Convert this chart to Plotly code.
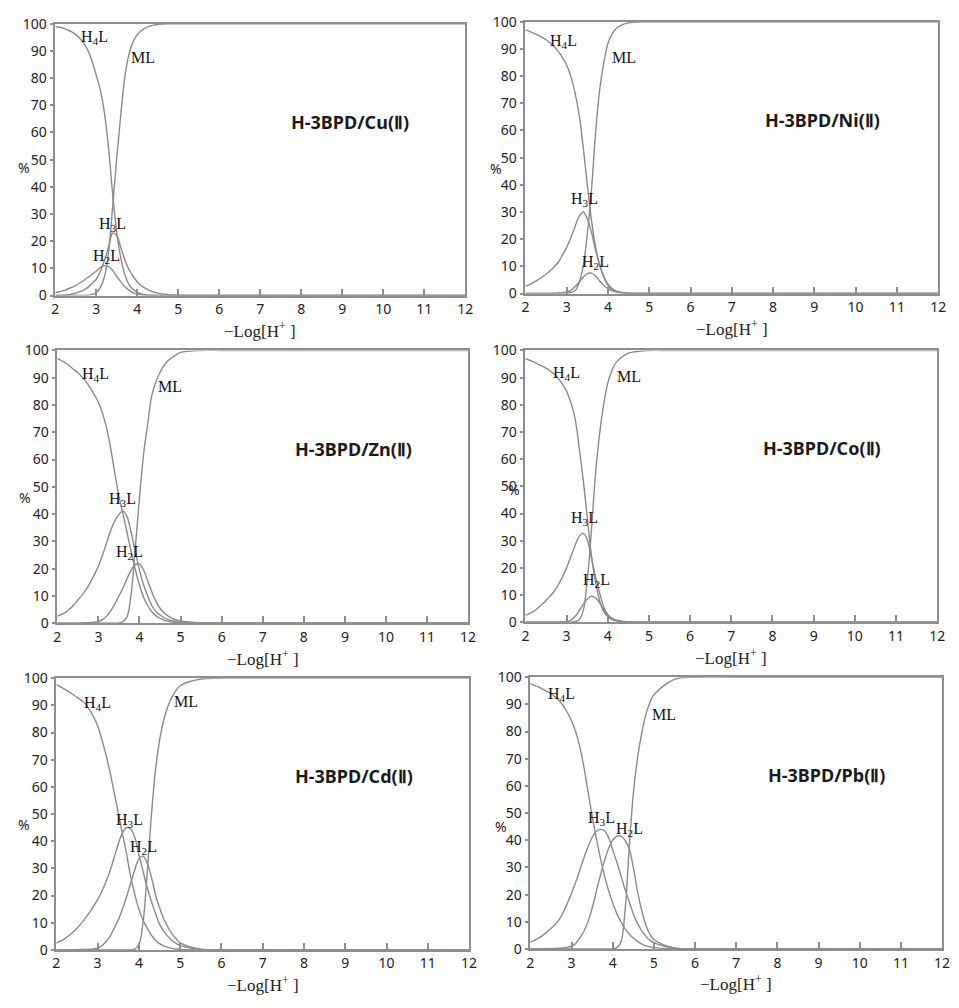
import plotly.graph_objects as go

# -Log[H+] sampling points shared by every panel
ph = [2.0, 2.1, 2.2, 2.3, 2.4, 2.5, 2.6, 2.7, 2.8, 2.9,
      3.0, 3.1, 3.2, 3.3, 3.4, 3.5, 3.6, 3.7, 3.8, 3.9,
      4.0, 4.1, 4.2, 4.3, 4.4, 4.5, 4.6, 4.7, 4.8, 4.9,
      5.0, 5.5, 6.0, 7.0, 12.0]

x_ticks = [2, 3, 4, 5, 6, 7, 8, 9, 10, 11, 12]
y_ticks = [0, 10, 20, 30, 40, 50, 60, 70, 80, 90, 100]

# species distribution (%) — H-3BPD / Cu(II)
cu_h4l = [99, 98.7, 98.3, 97.7, 97, 96, 94.6, 92.7, 90, 86,
          81, 75.5, 67, 54, 37, 23, 13.5, 7.5, 4, 2.2,
          1.2, 0.6, 0.3, 0.15, 0.08, 0.04, 0, 0, 0, 0,
          0, 0, 0, 0, 0]
cu_h3l = [0, 0.05, 0.15, 0.3, 0.55, 0.9, 1.4, 2.1, 3.1, 4.4,
          6, 9, 13, 18, 23, 22, 17.5, 13, 9.5, 7,
          5, 3.6, 2.6, 1.8, 1.3, 0.9, 0.6, 0.45, 0.3, 0.2,
          0.15, 0, 0, 0, 0]
cu_h2l = [1, 1.4, 1.8, 2.4, 3, 3.7, 4.6, 5.6, 6.7, 7.9,
          9, 10.3, 11, 10.6, 9.2, 7, 5, 3.2, 1.9, 1,
          0.5, 0.2, 0.1, 0, 0, 0, 0, 0, 0, 0,
          0, 0, 0, 0, 0]
cu_ml = [0, 0, 0, 0, 0, 0, 0, 0.05, 0.15, 0.4,
         1, 3, 7, 16, 33, 51, 67, 81, 89, 93.5,
         96, 97.5, 98.5, 99.1, 99.5, 99.7, 99.85, 99.95, 100, 100,
         100, 100, 100, 100, 100]

# H-3BPD / Ni(II)
ni_h4l = [97, 96.5, 95.8, 95.1, 94.3, 93.4, 92.2, 90.8, 89, 86.8,
          84, 80, 74, 66, 54, 40, 27, 17, 10.5, 6.3,
          3.5, 1.8, 1.0, 0.5, 0.25, 0.1, 0.05, 0, 0, 0,
          0, 0, 0, 0, 0]
ni_h3l = [2.6, 3.3, 4.1, 5, 6, 7.1, 8.4, 9.9, 11.6, 14.2,
          17, 20.5, 24.5, 28.3, 30, 27.5, 22.5, 16, 10.5, 6,
          3, 1.5, 0.8, 0.4, 0.2, 0.1, 0.05, 0, 0, 0,
          0, 0, 0, 0, 0]
ni_h2l = [0, 0, 0, 0, 0.02, 0.05, 0.08, 0.13, 0.2, 0.35,
          0.6, 1.2, 2.5, 4.2, 6, 7.3, 7.5, 6.5, 4.6, 3,
          1.8, 1, 0.5, 0.25, 0.1, 0.05, 0, 0, 0, 0,
          0, 0, 0, 0, 0]
ni_ml = [0, 0, 0, 0, 0, 0, 0, 0, 0, 0.03,
         0.1, 0.4, 1, 4, 10, 22, 38, 59, 75, 85,
         92, 95.5, 97.5, 98.6, 99.2, 99.6, 99.8, 99.9, 100, 100,
         100, 100, 100, 100, 100]

# H-3BPD / Zn(II)
zn_h4l = [97, 96.3, 95.4, 94.3, 93, 91.8, 90.3, 88.5, 86.3, 83.8,
          81, 77, 71.5, 64, 55, 46.5, 40, 33, 26, 19.5,
          14, 9.5, 6.5, 4.2, 2.8, 1.8, 1.1, 0.7, 0.4, 0.25,
          0.15, 0, 0, 0, 0]
zn_h3l = [2.6, 3.2, 4, 5.2, 6.7, 8.5, 10.3, 12.3, 14.8, 17.8,
          21, 25, 29.5, 34, 37.5, 40, 41.2, 39, 33, 26,
          19.5, 14, 10, 6.5, 4.3, 3, 2, 1.3, 0.9, 0.55,
          0.3, 0, 0, 0, 0]
zn_h2l = [0, 0, 0, 0.02, 0.04, 0.05, 0.1, 0.15, 0.25, 0.4,
          0.6, 1.3, 2.6, 4.5, 7, 10, 13, 16.5, 19.5, 21.5,
          21.7, 19.5, 15.5, 11.5, 8, 5.5, 3.8, 2.6, 1.8, 1.2,
          0.8, 0.1, 0, 0, 0]
zn_ml = [0, 0, 0, 0, 0, 0, 0, 0, 0, 0,
         0, 0, 0, 0, 0, 0.1, 0.6, 2.5, 11, 28,
         46, 62, 73, 83.5, 88.5, 92, 94.5, 96.3, 97.5, 98.5,
         99.3, 100, 100, 100, 100]

# H-3BPD / Co(II)
co_h4l = [97, 96.4, 95.8, 95, 94.3, 93.5, 92.5, 91.3, 89.7, 87.6,
          85, 81, 75.5, 65, 53, 39, 25, 15, 8, 4,
          2, 1, 0.5, 0.25, 0.1, 0.05, 0, 0, 0, 0,
          0, 0, 0, 0, 0]
co_h3l = [2.5, 3.2, 4, 5.2, 6.5, 8, 9.6, 11.4, 13.8, 16.7,
          20, 24, 28, 31.5, 32.8, 30.5, 24, 17, 11, 5.8,
          2.8, 1.3, 0.8, 0.4, 0.2, 0.1, 0, 0, 0, 0,
          0, 0, 0, 0, 0]
co_h2l = [0, 0, 0, 0, 0, 0, 0, 0.02, 0.06, 0.12,
          0.2, 0.7, 2, 4, 6.5, 8.5, 9.6, 9, 7.2, 4.8,
          2.8, 1.5, 0.8, 0.5, 0.25, 0.1, 0.05, 0, 0, 0,
          0, 0, 0, 0, 0]
co_ml = [0, 0, 0, 0, 0, 0, 0, 0, 0, 0,
         0, 0, 0.2, 0.8, 4, 15, 33, 54, 69, 80,
         88, 92.5, 95.5, 97, 98.2, 99, 99.4, 99.6, 99.8, 99.9,
         100, 100, 100, 100, 100]

# H-3BPD / Cd(II)
cd_h4l = [97.5, 96.8, 96, 95, 94, 93, 91.9, 90.7, 88.5, 85.8,
          82.5, 77.5, 72, 65.5, 58, 50.5, 43, 35.5, 27, 20.5,
          15, 11, 8, 5.5, 3.6, 2.3, 1.5, 0.95, 0.6, 0.35,
          0.2, 0, 0, 0, 0]
cd_h3l = [2.5, 3.2, 4.1, 5.2, 6.5, 8, 9.7, 11.6, 13.7, 16,
          18.5, 21.5, 25, 29, 34, 39, 43, 45, 44.5, 41.5,
          35, 29, 23, 18, 13.5, 9.5, 7, 5, 3.5, 2.4,
          1.6, 0.2, 0, 0, 0]
cd_h2l = [0, 0, 0.02, 0.05, 0.08, 0.1, 0.15, 0.2, 0.28, 0.4,
          0.7, 1.5, 3, 5, 8, 11, 15, 19.5, 24.5, 29.5,
          33.5, 34.5, 32, 27, 20.5, 15.5, 11.5, 8.5, 6, 4.1,
          2.6, 0.3, 0, 0, 0]
cd_ml = [0, 0, 0, 0, 0, 0, 0, 0, 0, 0,
         0, 0, 0, 0, 0, 0, 0, 0, 0, 0.3,
         2, 10, 28, 49, 66, 77, 84.5, 89.5, 93, 95.5,
         97.2, 99.7, 100, 100, 100]

# H-3BPD / Pb(II)
pb_h4l = [97.6, 97, 96.4, 95.6, 94.8, 94, 92.8, 91.3, 89.5, 87,
          84, 80, 74.5, 67, 58, 49, 41, 33.5, 27, 21.5,
          17, 13, 10, 7.5, 5.5, 4, 2.8, 1.9, 1.2, 0.8,
          0.5, 0.05, 0, 0, 0]
pb_h3l = [2.5, 3.2, 4, 5, 6.2, 7.5, 9, 10.8, 13.5, 16.8,
          20.5, 24.5, 29, 33.5, 37.5, 41, 43.3, 44, 43.5, 41,
          36.5, 32, 27, 22, 17.5, 13, 9.5, 6.8, 4.8, 3.3,
          2.3, 0.3, 0, 0, 0]
pb_h2l = [0, 0, 0.03, 0.06, 0.08, 0.1, 0.15, 0.25, 0.4, 0.65,
          1, 2, 4, 6.5, 10, 15, 21, 27, 32.5, 37,
          40, 41.5, 41.5, 40, 37, 30, 21.5, 14.5, 9, 5.5,
          3.5, 0.4, 0, 0, 0]
pb_ml = [0, 0, 0, 0, 0, 0, 0, 0, 0, 0,
         0, 0, 0, 0, 0, 0, 0, 0, 0, 0,
         0, 0.5, 2.5, 14, 37, 57, 70, 79, 86, 90.5,
         93.5, 99.2, 100, 100, 100]

species_names = ["H<sub>4</sub>L", "H<sub>3</sub>L", "H<sub>2</sub>L", "ML"]
titles = ["H-3BPD/Cu(Ⅱ)", "H-3BPD/Ni(Ⅱ)", "H-3BPD/Zn(Ⅱ)",
          "H-3BPD/Co(Ⅱ)", "H-3BPD/Cd(Ⅱ)", "H-3BPD/Pb(Ⅱ)"]
series = [
    [cu_h4l, cu_h3l, cu_h2l, cu_ml],
    [ni_h4l, ni_h3l, ni_h2l, ni_ml],
    [zn_h4l, zn_h3l, zn_h2l, zn_ml],
    [co_h4l, co_h3l, co_h2l, co_ml],
    [cd_h4l, cd_h3l, cd_h2l, cd_ml],
    [pb_h4l, pb_h3l, pb_h2l, pb_ml],
]

# panel frames in pixels: (left, right, top, bottom)
W, H = 959, 1008
frames = [
    (52, 467, 14, 291),
    (528, 946, 12, 289),
    (54, 470, 347, 625),
    (528, 945, 347, 624),
    (53, 471, 681, 958),
    (533, 950, 680, 957),
]
# species label placement (data units), order: H4L, H3L, H2L, ML
label_pos = [
    [(2.96, 95), (3.40, 26), (3.26, 14.5), (4.15, 87.6)],
    [(2.92, 92.7), (3.42, 34.5), (3.70, 11.4), (4.38, 86.9)],
    [(2.94, 91.1), (3.59, 45.3), (3.76, 25.8), (4.75, 86.9)],
    [(3.00, 91.7), (3.43, 38.1), (3.73, 15.3), (4.51, 90.5)],
    [(3.00, 90.5), (3.77, 47.7), (4.11, 37.8), (5.13, 91.3)],
    [(2.76, 93.8), (3.74, 48.0), (4.40, 43.8), (5.25, 86.4)],
]
# "%" label placement in axis-domain units
pct_pos = [(-0.097, 0.47), (-0.09, 0.46), (-0.099, 0.46),
           (-0.048, 0.49), (-0.097, 0.46), (-0.09, 0.45)]

CURVE = "#8a8a8a"
FRAME = "#8e8e8e"
TEXT = "#222222"

fig = go.Figure()
layout = dict(
    width=W, height=H, autosize=False,
    margin=dict(l=0, r=0, t=0, b=0),
    paper_bgcolor="white", plot_bgcolor="white",
    showlegend=False,
)
annotations = []

for i, (fr, curves) in enumerate(zip(frames, series)):
    n = i + 1
    xa = "x" if n == 1 else f"x{n}"
    ya = "y" if n == 1 else f"y{n}"
    left, right, top, bottom = fr
    layout[f"xaxis{'' if n == 1 else n}"] = dict(
        domain=[left / W, right / W], anchor=ya,
        range=[2, 12], tickvals=x_ticks, ticks="inside", ticklen=7,
        tickcolor=FRAME, tickwidth=1.5, ticklabelstandoff=0,
        showgrid=False, zeroline=False, showline=True, mirror=True,
        linecolor=FRAME, linewidth=1.5,
        tickfont=dict(family="Noto Sans", size=14, color=TEXT),
    )
    layout[f"yaxis{'' if n == 1 else n}"] = dict(
        domain=[1 - bottom / H, 1 - top / H], anchor=xa,
        range=[0, 100], tickvals=y_ticks, ticks="outside", ticklen=4,
        tickcolor=FRAME, tickwidth=1.5,
        showgrid=False, zeroline=False, showline=True, mirror=True,
        linecolor=FRAME, linewidth=1.5,
        tickfont=dict(family="Noto Sans", size=14, color=TEXT),
    )
    for ys in curves:
        fig.add_trace(go.Scatter(
            x=ph, y=ys, xaxis=xa, yaxis=ya, mode="lines",
            line=dict(color=CURVE, width=1.4, shape="spline", smoothing=1),
            hoverinfo="skip", cliponaxis=True,
        ))
    for name, (lx, ly) in zip(species_names, label_pos[i]):
        annotations.append(dict(
            x=lx, y=ly, xref=xa, yref=ya, text=name, showarrow=False,
            font=dict(family="Liberation Serif", size=16, color="#111111"),
        ))
    annotations.append(dict(
        x=9.2, y=64, xref=xa, yref=ya, text=f"<b>{titles[i]}</b>",
        showarrow=False,
        font=dict(family="Noto Sans", size=18, color="#1a1a1a"),
    ))
    px_, py_ = pct_pos[i]
    annotations.append(dict(
        x=px_, y=py_, xref=f"{xa} domain", yref=f"{ya} domain", text="%",
        showarrow=False, font=dict(family="Noto Sans", size=14, color=TEXT),
    ))
    annotations.append(dict(
        x=0.5, y=-35 / (bottom - top), xref=f"{xa} domain", yref=f"{ya} domain",
        text="−Log[H<sup>+</sup> ]", showarrow=False, yanchor="middle",
        font=dict(family="Liberation Serif", size=17, color=TEXT),
    ))

layout["annotations"] = annotations
fig.update_layout(**layout)
# pin the figure to the page's top-left corner
fig.write_html(
    "out.html",
    post_script="document.body.style.margin='0';document.body.style.padding='0';",
)
